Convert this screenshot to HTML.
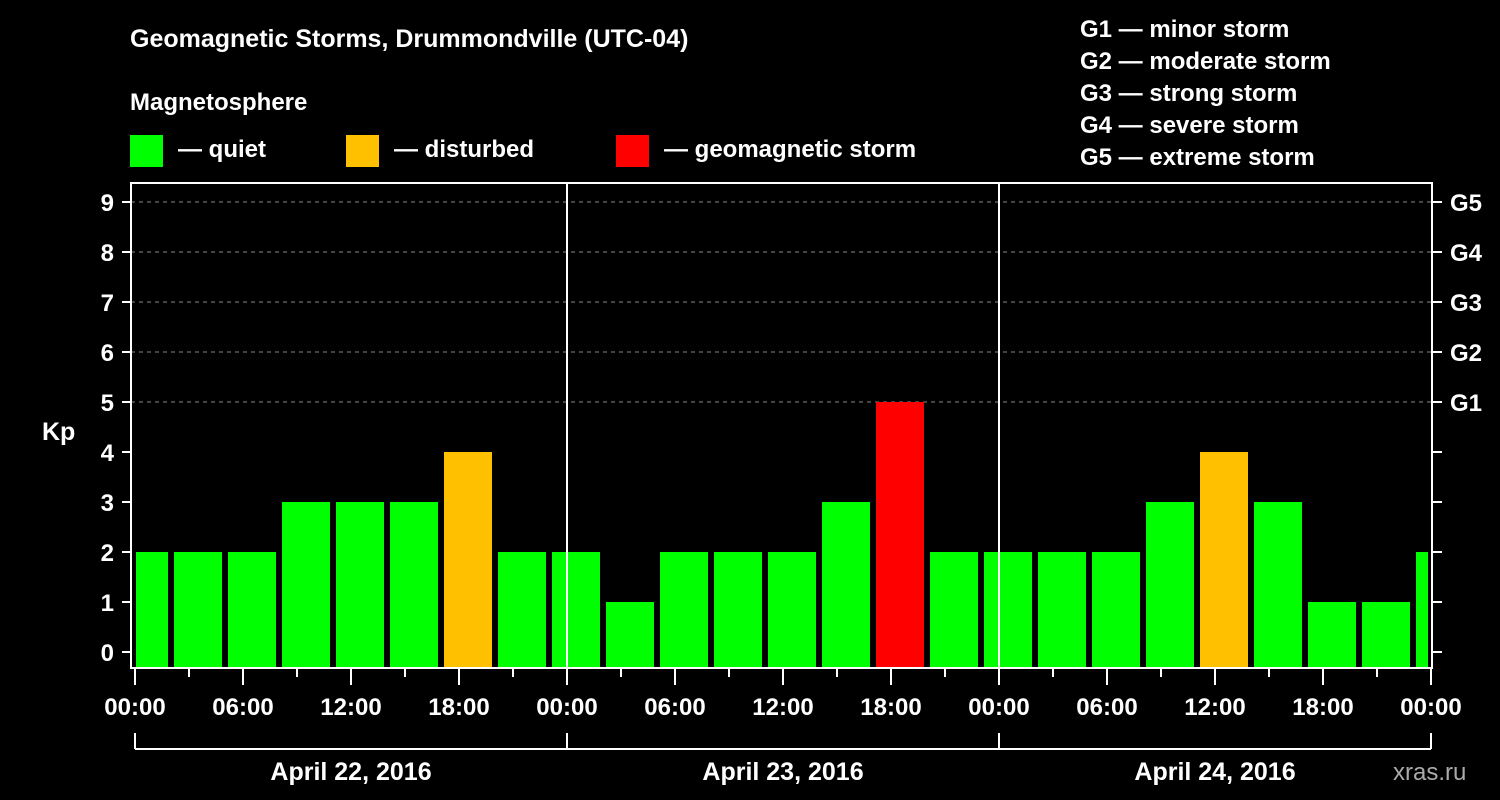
<!DOCTYPE html>
<html><head><meta charset="utf-8"><style>
body{margin:0;background:#000;}
svg{display:block;font-family:"Liberation Sans",sans-serif;font-weight:bold;}
</style></head><body>
<svg id="chart" width="1500" height="800" viewBox="0 0 1500 800">
<rect width="1500" height="800" fill="#000"/>
<text x="130" y="47" fill="#fff" font-size="25">Geomagnetic Storms, Drummondville (UTC-04)</text>
<text x="130" y="110" fill="#fff" font-size="24">Magnetosphere</text>
<g><rect x="130" y="135" width="33" height="32" fill="#00ff00"/><text x="178" y="157" fill="#fff" font-size="24">— quiet</text></g>
<g><rect x="346" y="135" width="33" height="32" fill="#ffc000"/><text x="394" y="157" fill="#fff" font-size="24">— disturbed</text></g>
<g><rect x="616" y="135" width="33" height="32" fill="#ff0000"/><text x="664" y="157" fill="#fff" font-size="24">— geomagnetic storm</text></g>
<g fill="#fff" font-size="24">
<text x="1080" y="37">G1 — minor storm</text>
<text x="1080" y="69">G2 — moderate storm</text>
<text x="1080" y="101">G3 — strong storm</text>
<text x="1080" y="133">G4 — severe storm</text>
<text x="1080" y="165">G5 — extreme storm</text>
</g>
<text x="42" y="440" fill="#fff" font-size="25">Kp</text>
<text x="1393" y="780" fill="#aaa" font-size="24" font-weight="normal">xras.ru</text>
<defs><clipPath id="pc"><rect x="136" y="183" width="1292" height="485"/></clipPath></defs>
<g id="grid"></g><g id="bars" clip-path="url(#pc)"></g><g id="axes"></g>
</svg>
<script>
const values=[2,2,2,3,3,3,4,2, 2,1,2,2,2,3,5,2, 2,2,2,3,4,3,1,1, 2];
const dayLabels=["April 22, 2016","April 23, 2016","April 24, 2016"];
const kpTicks=[0,1,2,3,4,5,6,7,8,9];
const gLabels=["G1","G2","G3","G4","G5"];
const timeLabels=["00:00","06:00","12:00","18:00"];
const NS="http://www.w3.org/2000/svg";
const X0=135,PXH=18,Y0=652,PXK=50,BOTTOM=668,TOP=183,LEFT=131,RIGHT=1432;
const xs=h=>X0+h*PXH, ys=k=>Y0-k*PXK;
function mk(p,tag,a){const e=document.createElementNS(NS,tag);for(const k in a)e.setAttribute(k,a[k]);p.appendChild(e);return e;}
const grid=document.getElementById('grid'),bars=document.getElementById('bars'),axes=document.getElementById('axes');
for(let k=5;k<=9;k++){const l=mk(grid,'line',{x1:LEFT,x2:RIGHT,y1:ys(k),y2:ys(k),stroke:'#888','stroke-dasharray':'4,4','stroke-width':1});

}
values.forEach((v,i)=>{const c=xs(0.5+3*i);const col=v>=5?'#ff0000':(v>=4?'#ffc000':'#00ff00');
const r=mk(bars,'rect',{x:c-24,y:ys(v),width:48,height:BOTTOM-ys(v),fill:col});

});
// frame
const fr=mk(axes,'rect',{x:LEFT,y:TOP,width:RIGHT-LEFT,height:BOTTOM-TOP,fill:'none',stroke:'#fff','stroke-width':2});


for(let d=1;d<3;d++){const l=mk(axes,'line',{x1:xs(24*d),x2:xs(24*d),y1:TOP,y2:BOTTOM,stroke:'#fff','stroke-width':2});

}
kpTicks.forEach(k=>{mk(axes,'line',{x1:122,x2:LEFT,y1:ys(k),y2:ys(k),stroke:'#fff','stroke-width':2});
mk(axes,'line',{x1:RIGHT,x2:1442,y1:ys(k),y2:ys(k),stroke:'#fff','stroke-width':2});
const t=mk(axes,'text',{x:114,y:ys(k)+9,fill:'#fff','font-size':24,'text-anchor':'end'});t.textContent=k;

});
gLabels.forEach((g,i)=>{const t=mk(axes,'text',{x:1450,y:ys(5+i)+9,fill:'#fff','font-size':24});t.textContent=g;

});
for(let h=0;h<=72;h+=3){const major=h%6===0;mk(axes,'line',{x1:xs(h),x2:xs(h),y1:BOTTOM,y2:major?685:677,stroke:'#fff','stroke-width':2});
if(major){const t=mk(axes,'text',{x:xs(h),y:715,fill:'#fff','font-size':24,'text-anchor':'middle'});t.textContent=timeLabels[(h%24)/6];

}}
mk(axes,'line',{x1:xs(0),x2:xs(72),y1:749,y2:749,stroke:'#fff','stroke-width':2});
for(let d=0;d<=3;d++)mk(axes,'line',{x1:xs(24*d),x2:xs(24*d),y1:733,y2:749,stroke:'#fff','stroke-width':2});
dayLabels.forEach((s,d)=>{const t=mk(axes,'text',{x:xs(24*d+12),y:780,fill:'#fff','font-size':25,'text-anchor':'middle'});t.textContent=s;

});
</script>
</body></html>
